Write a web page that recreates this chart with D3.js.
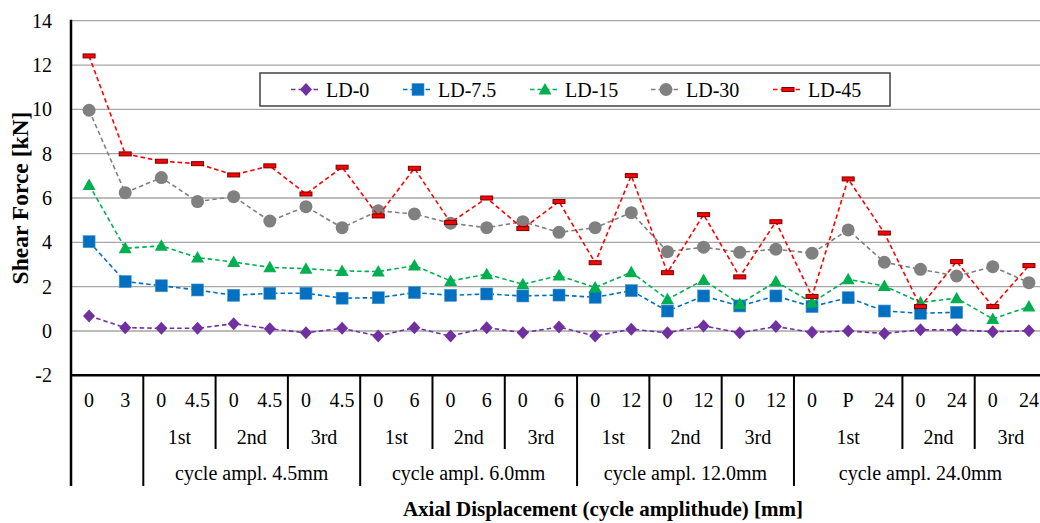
<!DOCTYPE html>
<html>
<head>
<meta charset="utf-8">
<script src="https://cdn.jsdelivr.net/npm/d3@7"></script>
<style>
  body { margin: 0; background: #fff; }
  text { font-family: 'Liberation Serif', 'Times New Roman', serif; fill: #000; }
</style>
</head>
<body>
<div id="chart"></div>
<script>
// x categories (bottom row), then the two grouping rows
const stepLabels = ['0', '3', '0', '4.5', '0', '4.5', '0', '4.5', '0', '6', '0', '6', '0', '6',
  '0', '12', '0', '12', '0', '12', '0', 'P', '24', '0', '24', '0', '24']
const cycleNames = ['', '1st', '2nd', '3rd', '1st', '2nd', '3rd', '1st', '2nd', '3rd', '1st', '2nd', '3rd']
const cycleSizes = [2, 2, 2, 2, 2, 2, 2, 2, 2, 2, 3, 2, 2]
const amplNames = ['', 'cycle ampl. 4.5mm', 'cycle ampl. 6.0mm', 'cycle ampl. 12.0mm', 'cycle ampl. 24.0mm']
const amplSizes = [2, 6, 6, 6, 7]

const seriesNames = ['LD-0', 'LD-7.5', 'LD-15', 'LD-30', 'LD-45']
const ld0 = [0.68, 0.15, 0.12, 0.12, 0.33, 0.10, -0.08, 0.12, -0.23, 0.15, -0.23, 0.15, -0.08, 0.18,
  -0.23, 0.08, -0.08, 0.23, -0.08, 0.20, -0.06, 0.0, -0.11, 0.05, 0.05, -0.03, 0.01]
const ld75 = [4.03, 2.23, 2.04, 1.85, 1.61, 1.70, 1.70, 1.48, 1.50, 1.73, 1.61, 1.67, 1.58, 1.62,
  1.52, 1.82, 0.90, 1.58, 1.13, 1.58, 1.10, 1.50, 0.90, 0.80, 0.84, null, null]
const ld15 = [6.59, 3.73, 3.84, 3.31, 3.11, 2.87, 2.81, 2.71, 2.68, 2.95, 2.26, 2.56, 2.11, 2.50,
  1.96, 2.65, 1.43, 2.30, 1.22, 2.23, 1.28, 2.33, 2.03, 1.29, 1.48, 0.54, 1.10]
const ld30 = [9.96, 6.24, 6.92, 5.84, 6.06, 4.96, 5.61, 4.66, 5.42, 5.28, 4.86, 4.66, 4.93, 4.45,
  4.66, 5.34, 3.58, 3.78, 3.55, 3.69, 3.51, 4.56, 3.10, 2.78, 2.48, 2.90, 2.18]
const ld45 = [12.41, 7.99, 7.66, 7.55, 7.04, 7.45, 6.18, 7.39, 5.19, 7.34, 4.89, 6.0, 4.62, 5.84,
  3.08, 7.01, 2.63, 5.25, 2.44, 4.93, 1.56, 6.86, 4.42, 1.10, 3.13, 1.10, 2.95]
const yTicks = [-2, 0, 2, 4, 6, 8, 10, 12, 14]

const colors = ['#7030a0', '#0070c0', '#00b050', '#808080', '#ff0000']
const values = [ld0, ld75, ld15, ld30, ld45]
const serif = "'Liberation Serif', 'Times New Roman', serif"

const dimensions = {
  width: 1040,
  height: 523,
  margin: { top: 20.7, right: -7, bottom: 147.7, left: 71 }
}
const plotBottom = dimensions.height - dimensions.margin.bottom

const svg = d3.select('#chart').append('svg')
  .attr('width', dimensions.width)
  .attr('height', dimensions.height)

const xScale = d3.scaleBand()
  .domain(d3.range(stepLabels.length))
  .range([dimensions.margin.left, dimensions.width - dimensions.margin.right])
const xMid = i => xScale(i) + xScale.bandwidth() / 2

const yScale = d3.scaleLinear()
  .domain([-2, 14])
  .range([plotBottom, dimensions.margin.top])

// gridlines
svg.append('g')
  .selectAll('line')
  .data(yTicks.filter(d => d > -2))
  .join('line')
  .attr('x1', dimensions.margin.left)
  .attr('x2', dimensions.width - dimensions.margin.right)
  .attr('y1', d => yScale(d))
  .attr('y2', d => yScale(d))
  .attr('stroke', '#a6a6a6')
  .attr('stroke-width', 1.3)

// y axis labels
const yAxis = svg.append('g')
  .attr('transform', `translate(${dimensions.margin.left}, 0)`)
  .call(d3.axisLeft(yScale).tickValues(yTicks).tickSize(0).tickPadding(19).tickFormat(d => String(d)))
  .attr('font-family', serif)
  .attr('font-size', 20)
yAxis.select('.domain').remove()
yAxis.selectAll('text')
  .attr('fill', '#000')

svg.append('text')
  .attr('transform', `translate(28, ${(yScale(14) + yScale(-2)) / 2}) rotate(-90)`)
  .attr('text-anchor', 'middle')
  .style('font-size', '23.5px')
  .style('font-weight', 'bold')
  .text('Shear Force [kN]')

// multi-level category axis
const rowY = [407, 444, 480]
const cycleBottom = 449
const amplBottom = 486

const axisG = svg.append('g')
axisG.selectAll('.step')
  .data(stepLabels)
  .join('text')
  .attr('x', (d, i) => xMid(i))
  .attr('y', rowY[0])
  .attr('text-anchor', 'middle')
  .style('font-size', '20px')
  .text(d => d)

function groups (names, sizes) {
  let start = 0
  return names.map((name, k) => {
    const g = { name, start, end: start + sizes[k] }
    start += sizes[k]
    return g
  })
}
const cycles = groups(cycleNames, cycleSizes)
const ampls = groups(amplNames, amplSizes)
const amplEnds = new Set(ampls.map(g => g.end))

axisG.selectAll('.cycle')
  .data(cycles)
  .join('text')
  .attr('x', d => (xScale(d.start) + xScale(d.end - 1) + xScale.bandwidth()) / 2)
  .attr('y', rowY[1])
  .attr('text-anchor', 'middle')
  .style('font-size', '20px')
  .text(d => d.name)

axisG.selectAll('.ampl')
  .data(ampls)
  .join('text')
  .attr('x', d => (xScale(d.start) + xScale(d.end - 1) + xScale.bandwidth()) / 2)
  .attr('y', rowY[2])
  .attr('text-anchor', 'middle')
  .style('font-size', '20px')
  .text(d => d.name)

const xEdge = i => i < stepLabels.length ? xScale(i) : xScale(i - 1) + xScale.bandwidth()
axisG.selectAll('.sep')
  .data(cycles.map(d => d.end))
  .join('line')
  .attr('x1', d => xEdge(d))
  .attr('x2', d => xEdge(d))
  .attr('y1', plotBottom)
  .attr('y2', d => amplEnds.has(d) ? amplBottom : cycleBottom)
  .attr('stroke', '#000')
  .attr('stroke-width', 2)

// axis lines
svg.append('line')
  .attr('x1', dimensions.margin.left)
  .attr('x2', dimensions.width - dimensions.margin.right)
  .attr('y1', plotBottom)
  .attr('y2', plotBottom)
  .attr('stroke', '#000')
  .attr('stroke-width', 2.5)
svg.append('line')
  .attr('x1', dimensions.margin.left)
  .attr('x2', dimensions.margin.left)
  .attr('y1', dimensions.margin.top - 1)
  .attr('y2', amplBottom)
  .attr('stroke', '#000')
  .attr('stroke-width', 2.5)

svg.append('text')
  .attr('x', 603)
  .attr('y', 516)
  .attr('text-anchor', 'middle')
  .style('font-size', '21px')
  .style('font-weight', 'bold')
  .text('Axial Displacement (cycle amplithude) [mm]')

// markers
function drawMarker (sel, k) {
  const c = colors[k]
  if (k === 0) {
    sel.append('path').attr('d', 'M0,-6.5L6,0L0,6.5L-6,0Z').attr('fill', c)
  } else if (k === 1) {
    sel.append('rect').attr('x', -6).attr('y', -6).attr('width', 12).attr('height', 12)
      .attr('fill', c).attr('stroke', '#4a90d0').attr('stroke-width', 0.6)
  } else if (k === 2) {
    sel.append('path').attr('d', 'M0,-6.5L6.5,5L-6.5,5Z').attr('fill', c)
  } else if (k === 3) {
    sel.append('circle').attr('r', 6.5).attr('fill', c)
  } else {
    sel.append('rect').attr('x', -6).attr('y', -2).attr('width', 12).attr('height', 4)
      .attr('fill', c).attr('stroke', '#7a0000').attr('stroke-width', 1)
  }
}

const line = d3.line()
  .defined(d => d != null)
  .x((d, i) => xMid(i))
  .y(d => yScale(d))

values.forEach((vals, k) => {
  const g = svg.append('g')
  g.append('path')
    .attr('d', line(vals))
    .attr('fill', 'none')
    .attr('stroke', colors[k])
    .attr('stroke-width', 1.6)
    .attr('stroke-dasharray', '4.5,3')
  g.selectAll('g')
    .data(vals.map((v, i) => [i, v]).filter(d => d[1] != null))
    .join('g')
    .attr('transform', d => `translate(${xMid(d[0])}, ${yScale(d[1])})`)
    .each(function () { drawMarker(d3.select(this), k) })
})

// legend
const legendBox = { x: 260, y: 73, w: 630, h: 33 }
const legendX = [291, 403, 530, 651, 773]
const legend = svg.append('g')
legend.append('rect')
  .attr('x', legendBox.x)
  .attr('y', legendBox.y)
  .attr('width', legendBox.w)
  .attr('height', legendBox.h)
  .attr('fill', '#fff')
  .attr('stroke', '#404040')
  .attr('stroke-width', 1.5)
seriesNames.forEach((name, k) => {
  const cy = legendBox.y + legendBox.h / 2
  const item = legend.append('g').attr('transform', `translate(${legendX[k]}, ${cy})`)
  item.append('line')
    .attr('x1', 0).attr('x2', 30)
    .attr('stroke', colors[k])
    .attr('stroke-width', 1.6)
    .attr('stroke-dasharray', '4.5,3')
  const m = item.append('g').attr('transform', 'translate(15, 0)')
  drawMarker(m, k)
  item.append('text')
    .attr('x', 35)
    .attr('y', 7)
    .style('font-size', '20px')
    .text(name)
})
</script>
</body>
</html>
